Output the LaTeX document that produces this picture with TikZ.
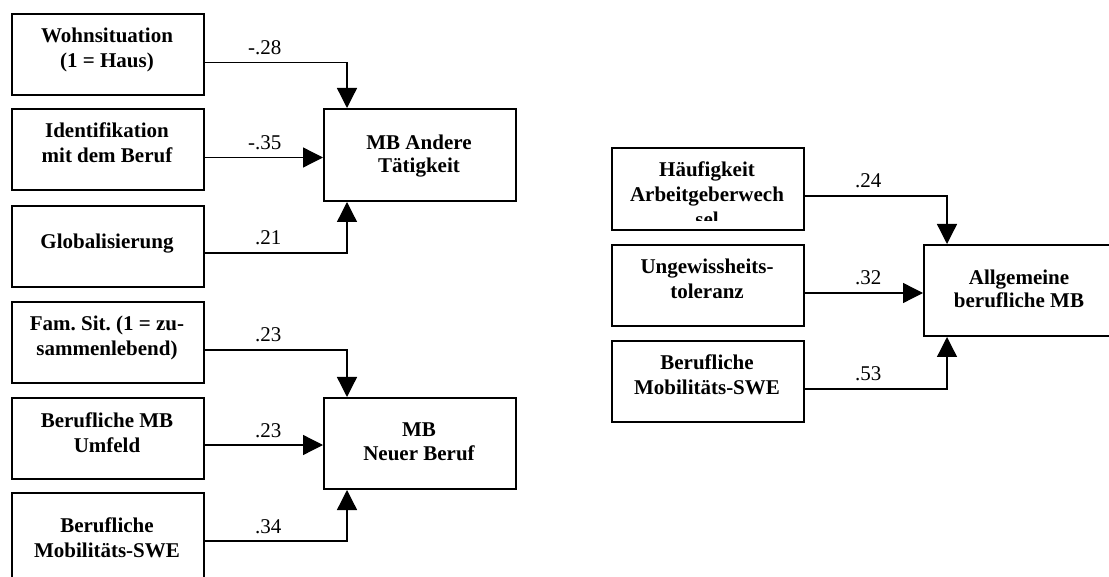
\documentclass[tikz,border=0pt]{standalone}
\usepackage{fontspec}
\setmainfont{Liberation Serif}
\usetikzlibrary{arrows.meta}
\begin{document}
\begin{tikzpicture}[x=1pt,y=-1pt,
  box/.style={draw=black, line width=2pt, minimum width=192pt, minimum height=81pt,
    inner sep=0pt, anchor=north west},
  txt/.style={align=center, anchor=base, inner sep=0pt,
    font=\bfseries\fontsize{21}{25}\selectfont},
  ttxt/.style={txt, font=\bfseries\fontsize{21}{23.5}\selectfont},
  coef/.style={anchor=base east, inner sep=0pt, font=\fontsize{21}{24}\selectfont},
  arr/.style={line width=1.3pt, -{Triangle[length=20pt,width=20pt]}},
]
\useasboundingbox (0,0) rectangle (1109,577);
\clip (0,0) rectangle (1109,577);

% ---- boxes, left column: MB Andere Taetigkeit
\node[box] (wohn)  at (11,13)  {};
\node[box] (ident) at (11,108) {};
\node[box] (glob)  at (11,205) {};
\node[box, minimum height=92pt] (andere) at (323,108) {};

% ---- boxes, left column: MB Neuer Beruf
\node[box] (fam)  at (11,301) {};
\node[box] (bmb)  at (11,397) {};
\node[box, minimum height=100pt] (swe1) at (11,492) {};
\node[box, minimum height=91pt] (neu) at (323,397) {};

% ---- boxes, right group: Allgemeine berufliche MB
\node[box, minimum height=82pt] (haeuf) at (611,147) {};
\node[box] (ungew) at (611,244) {};
\node[box] (swe2)  at (611,340) {};
\node[box, minimum height=91pt] (allg) at (923,244) {};

% ---- box texts
\node[txt] (wohn-t)  at (107,68)  {Wohnsituation\\(1 = Haus)};
\node[txt] (ident-t) at (107,163) {Identifikation\\mit dem Beruf};
\node[txt] (glob-t)  at (107,249) {Globalisierung};
\node[ttxt] (andere-t) at (419,173) {MB Andere\\Tätigkeit};

\node[txt] (fam-t)  at (107,356) {Fam.~Sit.~(1 = zu-\\sammenlebend)};
\node[txt] (bmb-t)  at (107,452) {Berufliche MB\\Umfeld};
\node[txt] (swe1-t) at (107,557) {Berufliche\\Mobilitäts-SWE};
\node[ttxt] (neu-t) at (419,460) {MB\\Neuer Beruf};

\begin{scope}
  \clip (haeuf.north west) rectangle ([yshift=10pt]haeuf.south east);
  \node[txt] (haeuf-t) at (707,227) {Häufigkeit\\Arbeitgeberwech\\sel};
\end{scope}
\node[txt] (ungew-t) at (707,299) {Ungewissheits-\\toleranz};
\node[txt] (swe2-t)  at (707,395) {Berufliche\\Mobilitäts-SWE};
\node[ttxt] (allg-t) at (1019,308) {Allgemeine\\berufliche MB};

% ---- paths with coefficients
\draw[arr] ([yshift=-8pt]wohn.east) -| ([xshift=24pt]andere.north west)
  node[coef, at start, xshift=77pt, yshift=8pt] {-.28};
\draw[arr] ([yshift=-8pt]ident.east) -- ([yshift=-8pt]ident.east -| andere.west)
  node[coef, at start, xshift=77pt, yshift=8pt] {-.35};
\draw[arr] ([yshift=-6.5pt]glob.east) -| ([xshift=24pt]andere.south west)
  node[coef, at start, xshift=77pt, yshift=8pt] {.21};

\draw[arr] ([yshift=-7.5pt]fam.east) -| ([xshift=24pt]neu.north west)
  node[coef, at start, xshift=77pt, yshift=8pt] {.23};
\draw[arr] ([yshift=-6.5pt]bmb.east) -- ([yshift=-6.5pt]bmb.east -| neu.west)
  node[coef, at start, xshift=77pt, yshift=8pt] {.23};
\draw[arr] ([yshift=2pt]swe1.east) -| ([xshift=24pt]neu.south west)
  node[coef, at start, xshift=77pt, yshift=8pt] {.34};

\draw[arr] ([yshift=-7pt]haeuf.east) -| ([xshift=24pt]allg.north west)
  node[coef, at start, xshift=77pt, yshift=8pt] {.24};
\draw[arr] ([yshift=-7.5pt]ungew.east) -- ([yshift=-7.5pt]ungew.east -| allg.west)
  node[coef, at start, xshift=77pt, yshift=8pt] {.32};
\draw[arr] ([yshift=-7.5pt]swe2.east) -| ([xshift=24pt]allg.south west)
  node[coef, at start, xshift=77pt, yshift=8pt] {.53};
\end{tikzpicture}
\end{document}
